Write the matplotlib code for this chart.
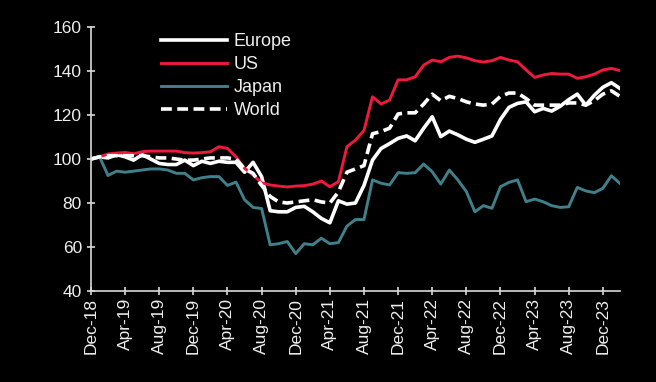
import numpy as np
import matplotlib
matplotlib.use('Agg')
import matplotlib.pyplot as plt

# monthly index levels, Dec-18 = 100 (Dec-18 .. Feb-24)
europe = [100, 101, 100.5, 102, 101, 99.5, 102, 100, 98, 97.5,
          97.5, 99.5, 97, 99, 98, 99, 98.5, 98.5, 94, 98.5,
          92, 76.5, 76, 76, 78, 78.5, 76, 73, 71, 81,
          79.5, 80, 88, 99.5, 104.8, 107, 109.4, 110.5, 108.3, 114,
          119.2, 110.2, 112.7, 111, 109, 107.6, 109, 110.5, 118, 123.5,
          125.3, 126, 121.5, 123, 121.8, 124, 127, 129.5, 124.5, 129,
          132.6, 134.7, 132.1]
us = [100, 101, 102.3, 102.7, 103, 102.4, 103.3, 103.6, 103.6, 103.6,
      103.6, 102.9, 102.7, 102.9, 103.3, 105.6, 104.8, 101, 95.8, 92.7,
      89.2, 88.2, 87.7, 87.3, 87.7, 87.9, 88.6, 90, 87.4, 89.7,
      105.6, 108.6, 113, 128.3, 125, 126.8, 136, 136, 137.4, 142.7,
      145, 144.2, 146.2, 146.8, 146, 144.7, 144.1, 144.7, 146.2, 145,
      144.2, 140.5, 137.1, 138.2, 138.9, 138.6, 138.6, 136.7, 137.4, 138.6,
      140.5, 141.2, 140.2]
japan = [100, 101, 92.5, 94.5, 94, 94.5, 95, 95.5, 95.5, 95,
         93.5, 93.5, 90.5, 91.5, 92, 92, 88, 89.5, 81.5, 78,
         77.5, 61, 61.5, 62.5, 57, 61.5, 61, 64, 61.5, 62,
         69.5, 72.5, 72.5, 90.5, 89, 88.2, 93.8, 93.5, 93.8, 97.7,
         94.2, 88.6, 95, 90.5, 85.2, 76, 78.8, 77.6, 87.4, 89.4,
         90.5, 80.6, 81.8, 80.6, 78.8, 78, 78.3, 87.1, 85.5, 84.7,
         86.7, 92.4, 88.9]
world = [100, 101, 101.5, 101.5, 101.5, 101.5, 101.5, 101, 100.5, 100.5,
         100, 99.5, 99.5, 100, 100.5, 100.5, 100.5, 100, 95.5, 93.5,
         88, 83, 80.5, 80, 80.5, 81, 81.5, 80.5, 80, 85,
         94, 95.5, 97, 111.5, 112.5, 114, 120.5, 121, 121, 125,
         129.5, 126.5, 128.5, 127.5, 126, 125, 124.5, 125, 128.5, 130,
         130, 127.5, 124.5, 124.5, 124.5, 124.5, 125.5, 125.5, 124.5, 126.5,
         129.5, 131, 128.5]

tick_labels = ['Dec-18', 'Apr-19', 'Aug-19', 'Dec-19', 'Apr-20', 'Aug-20',
               'Dec-20', 'Apr-21', 'Aug-21', 'Dec-21', 'Apr-22', 'Aug-22',
               'Dec-22', 'Apr-23', 'Aug-23', 'Dec-23']

plt.rcParams['font.family'] = ['Liberation Sans', 'DejaVu Sans']

fig = plt.figure(figsize=(6.56, 3.82), dpi=100, facecolor='black')
ax = fig.add_axes([0.1387, 0.2382, 0.8063, 0.691], facecolor='black')

x = np.arange(len(europe))
ax.plot(x, europe, color='white', lw=2.6, label='Europe')
ax.plot(x, us, color='#EE1A3D', lw=2.1, label='US')
ax.plot(x, japan, color='#40808A', lw=2.1, label='Japan')
ax.plot(x, world, color='white', lw=2.6, ls=(0, (3, 1.5)), label='World')

ax.set_xlim(0, 62)
ax.set_ylim(40, 160)
ax.set_yticks(range(40, 161, 20))
ax.set_xticks(np.arange(0, 61, 4))
ax.set_xticklabels(tick_labels, rotation=90)

for s in ['top', 'right']:
    ax.spines[s].set_visible(False)
for s in ['left', 'bottom']:
    ax.spines[s].set_color('#d9d9d9')
    ax.spines[s].set_linewidth(1.2)
ax.tick_params(colors='#d9d9d9', labelcolor='#eeeeee', labelsize=12.5,
               direction='inout', length=6, width=1.2)
ax.tick_params(axis='x', pad=2)

leg = ax.legend(loc='upper left', bbox_to_anchor=(0.111, 1.017), frameon=False,
                fontsize=13, handlelength=3.7, handletextpad=0.35,
                labelspacing=0.33, borderaxespad=0.2)
for t in leg.get_texts():
    t.set_color('#eeeeee')

fig.savefig('out.png', dpi=100, facecolor='black')
